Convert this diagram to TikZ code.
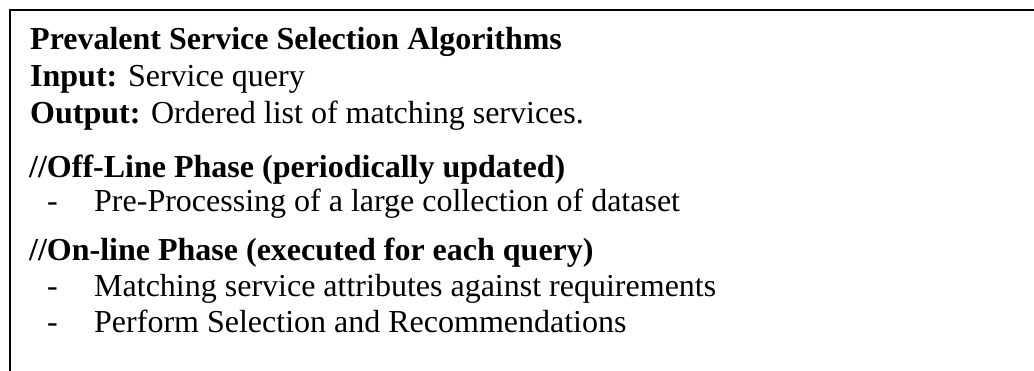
\documentclass[tikz,border=0pt]{standalone}
\usepackage{fontspec}
\setmainfont{Liberation Serif}
\begin{document}
\begin{tikzpicture}[x=1pt,y=-1pt,
  txt/.style={anchor=base west,inner sep=0pt,font=\fontsize{32}{37}\selectfont}]
\useasboundingbox (0,0) rectangle (1034,371);
\coordinate (tl) at (10,10.5);
\coordinate (tr) at (1034,10.5);
\coordinate (bl) at (10,371);
\draw[line width=2pt] (bl) -- (tl) -- (tr);
\node[txt] (t1) at (30,50) {\textbf{Prevalent Service Selection Algorithms}};
\node[txt] (t2) at (30,87) {\textbf{Input:} Service query};
\node[txt] (t3) at (30,124) {\textbf{Output:} Ordered list of matching services.};
\node[txt] (t4) at (29,178) {\textbf{//Off-Line Phase (periodically updated)}};
\node[txt] (d1) at (47,212) {-};
\node[txt] (t5) at (94,212) {Pre-Processing of a large collection of dataset};
\node[txt] (t6) at (29,261) {\textbf{//On-line Phase (executed for each query)}};
\node[txt] (d2) at (47,297) {-};
\node[txt] (t7) at (94,297) {Matching service attributes against requirements};
\node[txt] (d3) at (47,333) {-};
\node[txt] (t8) at (94,333) {Perform Selection and Recommendations};
\end{tikzpicture}
\end{document}
